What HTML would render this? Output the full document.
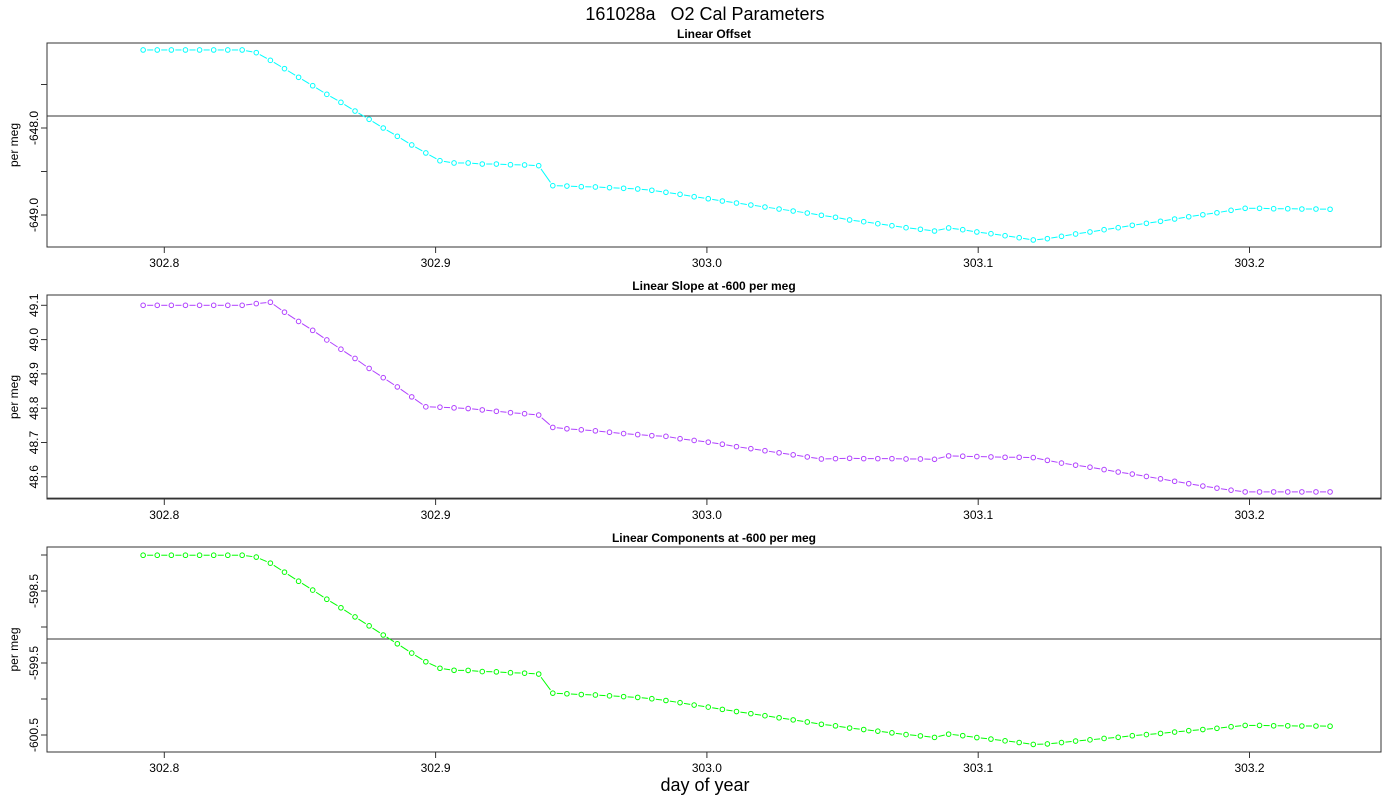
<!DOCTYPE html>
<html><head><meta charset="utf-8"><style>
body{margin:0;background:#fff;}
svg{display:block;font-family:"Liberation Sans",sans-serif;}
</style></head><body>
<svg id="chart" width="1400" height="800" viewBox="0 0 1400 800" xmlns="http://www.w3.org/2000/svg">
<rect width="1400" height="800" fill="#fff"/>
<text x="705" y="20" font-size="18" text-anchor="middle" xml:space="preserve">161028a   O2 Cal Parameters</text>
<text x="705" y="791" font-size="18" text-anchor="middle">day of year</text>
</svg>
<script>
const times=[302.7922,302.7974,302.8026,302.8078,302.8130,302.8182,302.8234,302.8287,302.8339,302.8391,302.8443,302.8495,302.8547,302.8599,302.8651,302.8703,302.8755,302.8807,302.8859,302.8912,302.8964,302.9016,302.9068,302.9120,302.9172,302.9224,302.9276,302.9328,302.9380,302.9432,302.9484,302.9537,302.9589,302.9641,302.9693,302.9745,302.9797,302.9849,302.9901,302.9953,303.0005,303.0057,303.0109,303.0162,303.0214,303.0266,303.0318,303.0370,303.0422,303.0474,303.0526,303.0578,303.0630,303.0682,303.0734,303.0787,303.0839,303.0891,303.0943,303.0995,303.1047,303.1099,303.1151,303.1203,303.1255,303.1307,303.1359,303.1412,303.1464,303.1516,303.1568,303.1620,303.1672,303.1724,303.1776,303.1828,303.1880,303.1932,303.1984,303.2037,303.2089,303.2141,303.2193,303.2245,303.2297];
const offsetVals=[-647.103,-647.103,-647.103,-647.103,-647.103,-647.103,-647.103,-647.103,-647.134,-647.222,-647.318,-647.417,-647.514,-647.613,-647.705,-647.805,-647.900,-648.000,-648.095,-648.195,-648.287,-648.376,-648.402,-648.402,-648.414,-648.414,-648.422,-648.425,-648.433,-648.663,-648.667,-648.675,-648.678,-648.686,-648.693,-648.701,-648.716,-648.739,-648.762,-648.790,-648.813,-648.839,-648.862,-648.885,-648.908,-648.931,-648.954,-648.977,-649.003,-649.026,-649.057,-649.077,-649.100,-649.123,-649.146,-649.164,-649.184,-649.149,-649.169,-649.195,-649.215,-649.238,-649.261,-649.287,-649.272,-649.245,-649.218,-649.195,-649.169,-649.146,-649.118,-649.095,-649.072,-649.046,-649.020,-648.997,-648.974,-648.946,-648.923,-648.923,-648.928,-648.928,-648.931,-648.931,-648.934];
const slopeVals=[49.100,49.100,49.100,49.100,49.100,49.100,49.100,49.100,49.105,49.109,49.080,49.053,49.027,48.999,48.972,48.945,48.916,48.889,48.862,48.833,48.804,48.803,48.801,48.799,48.795,48.791,48.787,48.784,48.780,48.744,48.740,48.737,48.734,48.730,48.726,48.723,48.720,48.718,48.711,48.706,48.701,48.695,48.688,48.682,48.676,48.670,48.664,48.658,48.652,48.653,48.654,48.653,48.653,48.653,48.652,48.652,48.651,48.661,48.660,48.659,48.658,48.657,48.657,48.656,48.648,48.640,48.634,48.628,48.621,48.614,48.608,48.601,48.594,48.587,48.580,48.573,48.567,48.561,48.556,48.556,48.556,48.556,48.556,48.556,48.556];
const componentVals=[-598.003,-598.003,-598.003,-598.003,-598.003,-598.003,-598.003,-598.003,-598.029,-598.113,-598.238,-598.364,-598.487,-598.614,-598.733,-598.860,-598.984,-599.111,-599.233,-599.362,-599.483,-599.573,-599.601,-599.603,-599.619,-599.623,-599.635,-599.641,-599.653,-599.919,-599.927,-599.938,-599.944,-599.956,-599.967,-599.978,-599.996,-600.021,-600.051,-600.084,-600.112,-600.144,-600.174,-600.203,-600.232,-600.261,-600.290,-600.319,-600.351,-600.373,-600.403,-600.424,-600.447,-600.470,-600.494,-600.512,-600.533,-600.488,-600.509,-600.536,-600.557,-600.581,-600.604,-600.631,-600.624,-600.605,-600.584,-600.567,-600.548,-600.532,-600.510,-600.494,-600.478,-600.459,-600.440,-600.424,-600.407,-600.385,-600.367,-600.367,-600.372,-600.372,-600.375,-600.375,-600.378];
const xTicks=[302.8,302.9,303.0,303.1,303.2];
const xTickLabels=["302.8","302.9","303.0","303.1","303.2"];
const offsetTicks=[-647.5,-648.0,-648.5,-649.0];
const offsetTickLabels=["","-648.0","","-649.0"];
const slopeTicks=[49.1,49.0,48.9,48.8,48.7,48.6];
const slopeTickLabels=["49.1","49.0","48.9","48.8","48.7","48.6"];
const compTicks=[-598.0,-598.5,-599.0,-599.5,-600.0,-600.5];
const compTickLabels=["","-598.5","","-599.5","","-600.5"];
const refLines=[-647.862,48.538,-599.167];

const NS="http://www.w3.org/2000/svg";
const svg=document.getElementById('chart');
function mk(tag,attrs,parent){const e=document.createElementNS(NS,tag);for(const k in attrs)e.setAttribute(k,attrs[k]);(parent||svg).appendChild(e);return e;}
const X0=47,X1=1381;
function xs(t){return 164.3+(t-302.8)*2713;}

const panels=[
 {name:'linear-offset',title:'Linear Offset',top:43,bot:247,vals:offsetVals,color:'#00ffff',ref:refLines[0],ticks:offsetTicks,labels:offsetTickLabels,y:function(v){return 128-(v+648)*87;}},
 {name:'linear-slope',title:'Linear Slope at -600 per meg',top:295,bot:499,vals:slopeVals,color:'#b040ff',ref:refLines[1],ticks:slopeTicks,labels:slopeTickLabels,y:function(v){return 305.3-(v-49.1)*343;}},
 {name:'linear-components',title:'Linear Components at -600 per meg',top:547,bot:752,vals:componentVals,color:'#00ff00',ref:refLines[2],ticks:compTicks,labels:compTickLabels,y:function(v){return 555-(v+598)*72;}}
];

panels.forEach(p=>{
  const g=mk('g',{});
  
  
  const t=mk('text',{x:714,y:p.top-5,'font-size':12,'font-weight':'bold','text-anchor':'middle'},g);
  t.textContent=p.title;
  
  
  const yl=mk('text',{x:18,y:(p.top+p.bot)/2,'font-size':12,'text-anchor':'middle',transform:'rotate(-90 18 '+((p.top+p.bot)/2)+')'},g);
  yl.textContent='per meg';
  
  
  // ref line
  const ry=p.y(p.ref);
  const rl=mk('line',{x1:X0,x2:X1,y1:ry,y2:ry,stroke:'#333','stroke-width':1},g);
  
  
  // box
  const bx=mk('rect',{x:X0,y:p.top,width:X1-X0,height:p.bot-p.top,fill:'none',stroke:'#333','stroke-width':1},g);
  
  
  // y ticks
  p.ticks.forEach((tv,i)=>{
    const yy=p.y(tv);
    const tk=mk('line',{x1:X0-6,x2:X0,y1:yy,y2:yy,stroke:'#333'},g);
    
    
    if(p.labels[i]){
      const lb=mk('text',{x:38,y:yy,'font-size':12,'text-anchor':'middle',transform:'rotate(-90 38 '+yy+')'},g);
      lb.textContent=p.labels[i];
      
      
    }
  });
  // x ticks
  xTicks.forEach((tv,i)=>{
    const xx=xs(tv);
    const tk=mk('line',{x1:xx,x2:xx,y1:p.bot,y2:p.bot+6,stroke:'#333'},g);
    
    
    const lb=mk('text',{x:xx,y:p.bot+20,'font-size':12,'text-anchor':'middle'},g);
    lb.textContent=xTickLabels[i];
    
    
  });
  // series
  const sg=mk('g',{},g);
  
  
  for(let i=0;i<p.vals.length-1;i++){
    const x1=xs(times[i]),y1=p.y(p.vals[i]),x2=xs(times[i+1]),y2=p.y(p.vals[i+1]);
    const dx=x2-x1,dy=y2-y1,L=Math.hypot(dx,dy);
    if(L>8){
      const ux=dx/L,uy=dy/L;
      const s=mk('line',{x1:x1+ux*4,y1:y1+uy*4,x2:x2-ux*4,y2:y2-uy*4,stroke:p.color,'stroke-width':1},sg);
      
      
    }
  }
  p.vals.forEach((v,i)=>{
    const c=mk('circle',{cx:xs(times[i]),cy:p.y(v),r:2.3,fill:'none',stroke:p.color,'stroke-width':1},sg);
    
    
  });
});
</script>
</body></html>
